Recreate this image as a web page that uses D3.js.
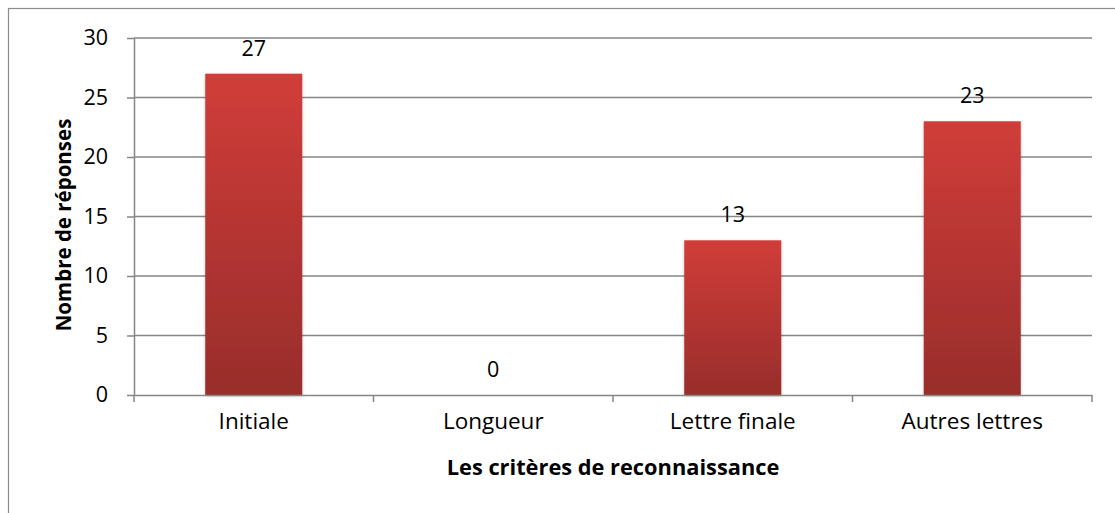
<html>
<head>
  <script src="https://cdnjs.cloudflare.com/ajax/libs/d3/7.8.5/d3.min.js"></script>
  <style>
    body { margin: 0; background: #fff; font-family: "Open Sans", sans-serif; }
    svg text { font-family: "Open Sans", sans-serif; fill: #000; }
    .axis text { font-size: 21.5px; }
    .x.axis text { font-size: 22.5px; }
    .axis path, .axis line { stroke: #868686; stroke-width: 1.5; }
  </style>
</head>
<body>
<div id="chart"></div>
<script>
  // chart values
  var categories = ["Initiale", "Longueur", "Lettre finale", "Autres lettres"];
  var values = [27, 0, 13, 23];
  var yTicks = [0, 5, 10, 15, 20, 25, 30];

  var svgWidth = 1115, svgHeight = 513;
  var margin = { top: 38, right: 23, bottom: 118, left: 134 };
  var width = svgWidth - margin.left - margin.right;
  var height = svgHeight - margin.top - margin.bottom;

  var svg = d3.select("#chart").append("svg")
    .attr("width", svgWidth)
    .attr("height", svgHeight);

  // outer frame
  svg.append("rect")
    .attr("x", 8.5).attr("y", 8.5)
    .attr("width", svgWidth + 20).attr("height", svgHeight + 20)
    .attr("fill", "none").attr("stroke", "#8c8c8c").attr("stroke-width", 1.2);

  var defs = svg.append("defs");
  var grad = defs.append("linearGradient").attr("id", "barGrad")
    .attr("x1", 0).attr("y1", 0).attr("x2", 0).attr("y2", 1);
  grad.append("stop").attr("offset", "0%").attr("stop-color", "#d13d39");
  grad.append("stop").attr("offset", "100%").attr("stop-color", "#982d2b");
  var shadow = defs.append("filter").attr("id", "shadow")
    .attr("x", "-10%").attr("y", "-10%").attr("width", "120%").attr("height", "120%");
  shadow.append("feDropShadow").attr("dx", 0).attr("dy", 1).attr("stdDeviation", 1.5)
    .attr("flood-color", "#000").attr("flood-opacity", 0.25);

  var chart = svg.append("g")
    .attr("transform", "translate(" + margin.left + "," + margin.top + ")");

  var x = d3.scaleBand().domain(categories).range([0, width]).paddingInner(0.595).paddingOuter(0.2975);
  var y = d3.scaleLinear().domain([0, 30]).range([height, 0]);

  // gridlines
  chart.append("g").selectAll("line")
    .data(yTicks.filter(function(d) { return d > 0; }))
    .enter().append("line")
    .attr("x1", 0).attr("x2", width)
    .attr("y1", function(d) { return y(d); })
    .attr("y2", function(d) { return y(d); })
    .attr("stroke", "#868686").attr("stroke-width", 1.5);

  // bars
  chart.append("g").selectAll("rect")
    .data(values)
    .enter().append("rect")
    .attr("x", function(d, i) { return x(categories[i]); })
    .attr("width", x.bandwidth())
    .attr("y", function(d) { return y(d); })
    .attr("height", function(d) { return height - y(d); })
    .attr("fill", "url(#barGrad)")
    .attr("filter", "url(#shadow)");

  // value labels
  chart.append("g").selectAll("text")
    .data(values)
    .enter().append("text")
    .attr("x", function(d, i) { return x(categories[i]) + x.bandwidth() / 2; })
    .attr("y", function(d) { return y(d) - 18; })
    .attr("text-anchor", "middle")
    .style("font-size", "21.5px")
    .text(function(d) { return d; });

  // axes
  var yAxis = d3.axisLeft(y).tickValues(yTicks).tickSize(7).tickPadding(19).tickSizeOuter(0);
  chart.append("g").attr("class", "y axis").call(yAxis);

  var band = x.step();
  var xAxis = d3.axisBottom(x).tickSize(0).tickPadding(18).tickSizeOuter(0);
  var gx = chart.append("g").attr("class", "x axis")
    .attr("transform", "translate(0," + height + ")")
    .call(xAxis);
  gx.selectAll(".tick text").attr("dy", "0.71em");
  // category boundary ticks
  gx.selectAll(".sep").data(d3.range(categories.length + 1))
    .enter().append("line")
    .attr("x1", function(i) { return i * band; })
    .attr("x2", function(i) { return i * band; })
    .attr("y1", 0).attr("y2", 7)
    .attr("stroke", "#868686").attr("stroke-width", 1.5);

  // axis titles
  svg.append("text")
    .attr("x", margin.left + width / 2)
    .attr("y", 475)
    .attr("text-anchor", "middle")
    .style("font-size", "21.8px").style("font-weight", "bold")
    .text("Les critères de reconnaissance");

  svg.append("text")
    .attr("transform", "translate(71,225) rotate(-90)")
    .attr("text-anchor", "middle")
    .style("font-size", "20.5px").style("font-weight", "bold")
    .text("Nombre de réponses");
</script>
</body>
</html>
